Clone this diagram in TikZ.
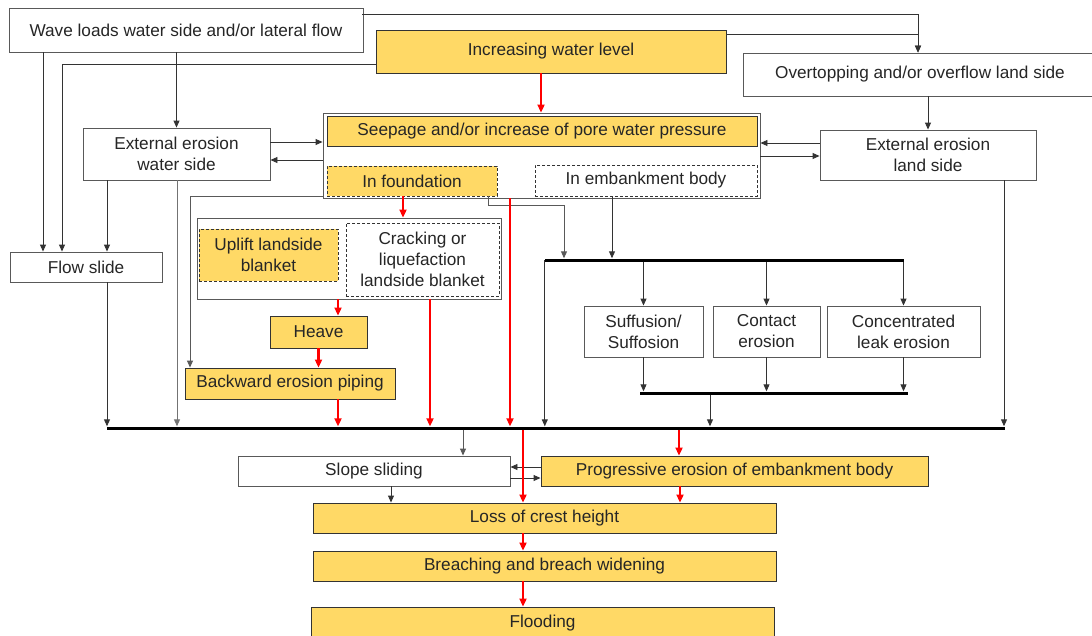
\documentclass[tikz,border=0pt]{standalone}
\usepackage{fontspec}
\setmainfont{Liberation Sans}
\usetikzlibrary{arrows.meta}

\definecolor{gold}{HTML}{FFD966}
\definecolor{edge}{HTML}{595959}
\definecolor{ink}{HTML}{262626}

\begin{document}
\begin{tikzpicture}[x=1pt, y=-1pt,
        every node/.style={font=\fontsize{17.2}{21}\selectfont, text=ink, inner sep=0pt, align=center},
        box/.style={draw=edge, line width=0.9pt, fill=white},
        ybox/.style={draw=black!80, line width=0.9pt, fill=gold},
        dbox/.style={draw=black!80, line width=0.8pt, dash pattern=on 3pt off 2pt, fill=white},
        dybox/.style={dbox, fill=gold},
        grp/.style={draw=edge, line width=0.9pt},
        busbar/.style={fill=black, minimum height=3pt},
        arr/.style={-{Triangle[length=7pt, width=6pt]}, line width=0.9pt, draw=black!80},
        rarr/.style={-{Triangle[length=8pt, width=7pt]}, line width=2.4pt, draw=red}
    ]
        \fill[white] (0,0) rectangle (1092,635);
        \useasboundingbox (0,0) rectangle (1092,635);

        \node[box, minimum width=354pt, minimum height=44pt] (wave) at (186,30)
            {Wave loads water side and/or lateral flow};
        \node[ybox, minimum width=350pt, minimum height=43pt] (incr) at (551,51.5)
            {Increasing water level};
        \node[box, minimum width=354pt, minimum height=43pt] (overtop) at (920,74.5)
            {Overtopping and/or overflow land side};
        \node[grp, minimum width=437pt, minimum height=85pt] (seepfr) at (541.5,155.5) {};
        \node[ybox, minimum width=430pt, minimum height=30pt] (seep) at (542,131)
            {Seepage and/or increase of pore water pressure};
        \node[dybox, minimum width=170pt, minimum height=30pt] (infound) at (412,181)
            {In foundation};
        \node[dbox, minimum width=222pt, minimum height=31pt] (inemb) at (646,180.5)
            {In embankment body};
        \node[box, minimum width=187pt, minimum height=52pt] (extW) at (176.5,154)
            {External erosion\\water side};
        \node[box, minimum width=216pt, minimum height=50pt] (extL) at (928,155)
            {External erosion\\land side};
        \node[box, minimum width=152pt, minimum height=30pt] (flowslide) at (86,267)
            {Flow slide};
        \node[grp, minimum width=304pt, minimum height=81pt] (landfr) at (349,258.5) {};
        \node[dybox, minimum width=139pt, minimum height=52pt] (uplift) at (268.5,255)
            {Uplift landside\\blanket};
        \node[dbox, minimum width=153pt, minimum height=73pt] (crack) at (422.5,259.5)
            {Cracking or\\liquefaction\\landside blanket};
        \node[ybox, minimum width=97pt, minimum height=32pt] (heave) at (318.5,332)
            {Heave};
        \node[ybox, minimum width=210pt, minimum height=31pt] (bep) at (290,383.5)
            {Backward erosion piping};
        \node[box, minimum width=119pt, minimum height=51pt] (suff) at (643.5,331.5)
            {Suffusion/\\Suffosion};
        \node[box, minimum width=107pt, minimum height=51pt] (contact) at (766.5,331.5)
            {Contact\\erosion};
        \node[box, minimum width=153pt, minimum height=51pt] (leak) at (903.5,331.5)
            {Concentrated\\leak erosion};
        \node[busbar, minimum width=359pt] (btop) at (724.5,260) {};
        \node[busbar, minimum width=268pt] (blow) at (774,393) {};
        \node[busbar, minimum width=898pt] (bmain) at (556,428) {};
        \node[box, minimum width=272pt, minimum height=30pt] (slope) at (374,471)
            {Slope sliding};
        \node[ybox, minimum width=387pt, minimum height=30pt] (prog) at (734.5,471)
            {Progressive erosion of embankment body};
        \node[ybox, minimum width=463pt, minimum height=30pt] (loss) at (544.5,518)
            {Loss of crest height};
        \node[ybox, minimum width=463pt, minimum height=30pt] (breach) at (544.5,566)
            {Breaching and breach widening};
        \node[ybox, minimum width=463pt, minimum height=32pt] (flood) at (542.5,623)
            {Flooding};

        \draw[arr] (362,0 |- 0,14) -| (918,0 |- overtop.north);
        \draw[arr] ([yshift=-5pt]incr.north east) -| (918,0 |- overtop.north);
        \draw[arr] ([yshift=9pt]incr.south west) -| (62,0 |- flowslide.north);
        \draw[arr] (43,0 |- wave.south) -- (43,0 |- flowslide.north);
        \draw[arr] (extW.north |- wave.south) -- (extW.north);
        \draw[arr] (107,0 |- extW.south) -- (107,0 |- flowslide.north);
        \draw[arr] (extW.east |- 0,142) -- (seepfr.west |- 0,142);
        \draw[arr] (seepfr.west |- 0,160) -- (extW.east |- 0,160);
        \draw[arr] (extL.west |- 0,143) -- (seepfr.east |- 0,143);
        \draw[arr] (seepfr.east |- 0,156) -- (extL.west |- 0,156);
        \draw[arr] (extL.north |- overtop.south) -- (extL.north);
        \draw[arr] (1004,0 |- extL.south) -- (1004,0 |- bmain.north);
        \draw[arr, draw=black!55] (177,0 |- extW.south) -- (177,0 |- bmain.north);
        \draw[arr] (107,0 |- flowslide.south) -- (107,0 |- bmain.north);
        \draw[arr, draw=black!65] ([yshift=2pt]seepfr.south west) -| (190,0 |- bep.north);
        \draw[arr, draw=black!65] (488,0 |- infound.south) -- (488,205) -| (564,0 |- btop.north);
        \draw[arr] (612,0 |- inemb.south) -- (612,0 |- btop.north);
        \draw[arr] (btop.west) -- (btop.west |- bmain.north);
        \foreach \n in {suff, contact, leak} {
            \draw[arr] (\n.north |- btop.south) -- (\n.north);
            \draw[arr] (\n.south) -- (\n.south |- blow.north);
        }
        \draw[arr] (710,0 |- blow.south) -- (710,0 |- bmain.north);
        \draw[arr, draw=black!65] (463,0 |- bmain.south) -- (463,0 |- slope.north);
        \draw[arr] (prog.west |- 0,467) -- (slope.east |- 0,467);
        \draw[arr] (slope.east |- 0,478) -- (prog.west |- 0,478);
        \draw[arr] (391,0 |- slope.south) -- (391,0 |- loss.north);

        \draw[rarr] (541,0 |- incr.south) -- (541,0 |- seepfr.north);
        \draw[rarr] (403,0 |- infound.south) -- (403,0 |- landfr.north);
        \draw[rarr] (510,0 |- seepfr.south) -- (510,0 |- bmain.north);
        \draw[rarr] (338,0 |- landfr.south) -- (338,0 |- heave.north);
        \draw[rarr] (430,0 |- landfr.south) -- (430,0 |- bmain.north);
        \draw[rarr] (heave.south) -- (heave.south |- bep.north);
        \draw[rarr] (338,0 |- bep.south) -- (338,0 |- bmain.north);
        \draw[rarr] (523,0 |- bmain.south) -- (523,0 |- loss.north);
        \draw[rarr] (679,0 |- bmain.south) -- (679,0 |- prog.north);
        \draw[rarr] (680,0 |- prog.south) -- (680,0 |- loss.north);
        \foreach \a/\b in {loss/breach, breach/flood}
            \draw[rarr] (523,0 |- \a.south) -- (523,0 |- \b.north);
    \end{tikzpicture}
\end{document}
